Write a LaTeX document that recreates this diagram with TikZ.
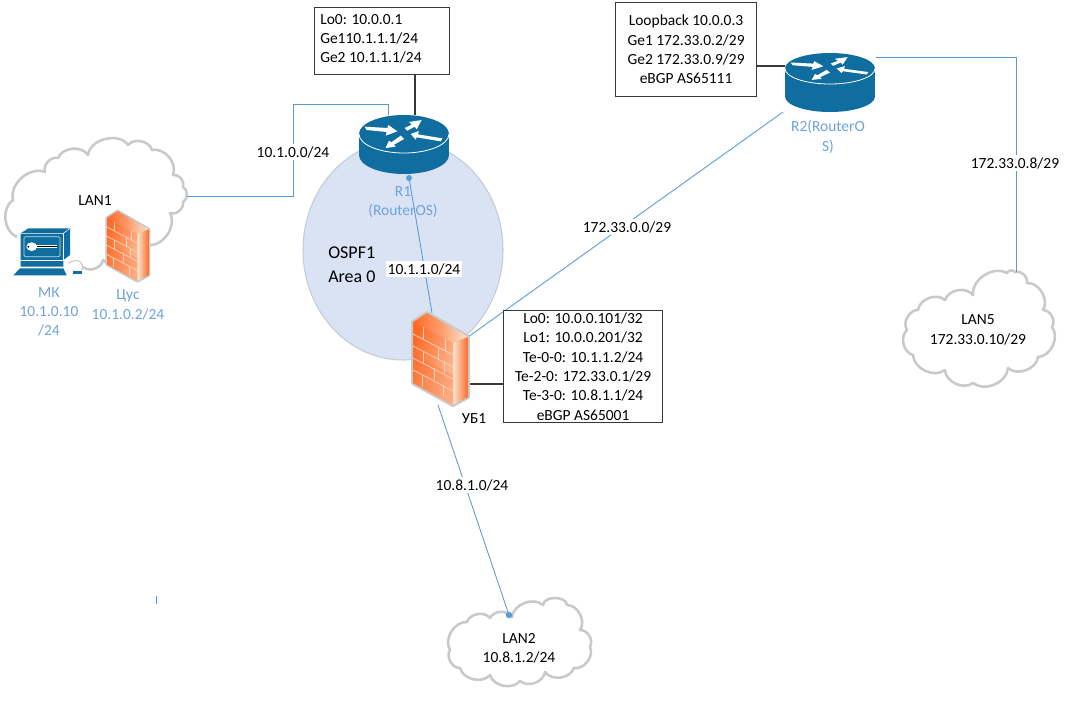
\documentclass[tikz,border=0pt]{standalone}
\usepackage{fontspec}
\setmainfont{Carlito}
\usetikzlibrary{arrows.meta,calc}
\definecolor{wire}{HTML}{5B9BD5}
\definecolor{lbl}{HTML}{6FA3DE}
\definecolor{rtr}{HTML}{0F6E9F}
\definecolor{cloudc}{HTML}{C9C9C9}
\definecolor{ospf}{HTML}{DAE3F3}
\definecolor{ospfl}{HTML}{C4CCD8}
\definecolor{fwa}{HTML}{FF6A26}
\definecolor{fwb}{HTML}{F9E6D2}
\definecolor{brick}{HTML}{F9D3BB}
\definecolor{dk}{HTML}{383838}
\tikzset{
  txt/.style={font=\fontsize{11.6}{14.5}\selectfont,inner sep=0pt,align=center,text=black},
  bluetxt/.style={txt,text=lbl},
  linklabel/.style={txt,fill=white,inner sep=1.5pt},
  infobox/.style={draw=dk,line width=0.85pt,fill=white,inner sep=0pt,font=\fontsize{11.6}{14.5}\selectfont,align=center},
  wirel/.style={draw=wire,line width=0.65pt},
  boxl/.style={draw=dk,line width=0.85pt},
  cloudl/.style={draw=cloudc,line width=1.9pt,fill=white,line join=round,every to/.style={bend left=62}},
}
% router: centre of top ellipse, half height of ellipse, height of the side
\newcommand{\routericon}[4]{%
\begin{scope}[shift={(#1,#2)}]
\fill[rtr] (-45,0) rectangle (45,#4);
\fill[rtr] (0,#4) ellipse[x radius=45,y radius=#3];
\fill[rtr] (0,0) ellipse[x radius=45,y radius=#3];
\draw[white,line width=0.6pt] (-45,0) arc[start angle=180,end angle=0,x radius=45,y radius=#3];
\begin{scope}[x=0.25pt,y=-0.25pt*#3/19,shift={(-190,-130)}]
\fill[white] (72,108) -- (140,112) -- (143,103) -- (170,122) -- (135,135) -- (138,124) -- (78,118) -- cycle;
\fill[white] (192,112) -- (213,102) -- (205,94) -- (243,88) -- (228,116) -- (222,108) -- (200,120) -- cycle;
\fill[white] (210,130) -- (235,121) -- (232,131) -- (305,143) -- (300,152) -- (228,140) -- (225,147) -- cycle;
\fill[white] (135,172) -- (145,150) -- (152,155) -- (180,135) -- (190,145) -- (160,162) -- (165,168) -- cycle;
\end{scope}
\end{scope}}
% firewall: top left corner of the front face and a scale
\newcommand{\firewallicon}[3]{%
\begin{scope}[shift={(#1,#2)},scale=#3]
\draw[cloudc,line width=3pt*#3,line join=round,fill=cloudc] (0,0) -- (14,-9) -- (55,15) -- (55,75) -- (40,83) -- (0,61) -- cycle;
\shade[left color=fwa,right color=fwb,middle color=fwa!60!fwb] (0,0) -- (14,-9) -- (55,15) -- (40,21) -- cycle;
\shade[left color=fwb,right color=fwa] (40,21) -- (55,15) -- (55,75) -- (40,83) -- cycle;
\shade[left color=fwa,right color=fwa!30!fwb,shading angle=70] (0,0) -- (40,21) -- (40,83) -- (0,61) -- cycle;
\fill[fwa,opacity=0.25] (0,32) -- (40,53) -- (40,83) -- (0,61) -- cycle;
\begin{scope}[draw=brick,line width=0.55pt]
\foreach \r in {12,24,36,48}{\draw (0,\r) -- (40,\r+21);}
\draw (10,5) -- (10,17); \draw (25,25) -- (25,37); \draw (10,29) -- (10,41);
\draw (21,46) -- (21,58); \draw (31,39) -- (31,51); \draw (9,53) -- (9,65);
\draw (30,63) -- (30,75); \draw (32,17) -- (32,29);
\end{scope}
\end{scope}}
\begin{document}
\begin{tikzpicture}[x=0.75pt,y=-0.75pt]
\useasboundingbox (0,0) rectangle (1070,711);
\fill[white] (0,0) rectangle (1070,711);

% area
\draw[fill=ospf,draw=ospfl,line width=0.8pt] (403,250) ellipse[x radius=100,y radius=110];

% clouds
\draw[cloudl] (17,237) to (13,200) to (45,172) to (58,158) to (88,155) to[bend left=70] (128,145) to (152,150) to (173,175) to (183,187) to (183,202) to (170,213) to (148,245) to (103,260) to (83,267);
\draw[cloudl] (512,617) to (543,605) to[bend left=85] (567,605) to (580,630) to (590,647) to (574,668) to (545,672) to (520,681) to (490,675) to (460,668) to (450,650) to (467,622) to (490,618) to cycle;
\draw[cloudl] (1015,272) to (1027,283) to (1043,310) to (1052,327) to (1038,357) to (1008,368) to (973,383) to (945,370) to (913,355) to (907,330) to (918,310) to (945,300) to (973,295) to (1007,273) to cycle;

% anchors of the devices
\coordinate (lan1out) at (187,196);
\coordinate (r1in) at (388,115);
\coordinate (r1box) at (415,115);
\coordinate (r1south) at (409,178);
\coordinate (ub1north) at (432,313);
\coordinate (ub1east) at (468,337);
\coordinate (ub1box) at (468,384);
\coordinate (ub1south) at (438,405);
\coordinate (r2south) at (783,112);
\coordinate (r2box) at (785,66);
\coordinate (r2out) at (876,57);
\coordinate (lan2in) at (509,615);
\coordinate (lan5in) at (1016,272);

% connectors under the devices
\draw[wirel] (lan1out) -- (293,196) -- (293,104) -- (388,104) -- (r1in);
\draw[wirel] (r1south) -- (ub1north);
\fill[wire] (r1south) circle[radius=3];
\draw[wirel] (ub1east) -- (r2south);
\draw[wirel] (ub1south) -- (lan2in);
\fill[wire] (lan2in) circle[radius=3.2];
\draw[wirel] (r2out) -- (lan5in |- r2out) -- (lan5in);
\draw[wirel] (156,596) -- (156,604);

% boxes
\node[infobox,anchor=north west,minimum width=135pt*0.75,minimum height=67pt*0.75] (boxa) at (314,7) {};
\node[txt,anchor=north west,align=left] (boxatxt) at (320,14) {Lo0: 10.0.0.1\\Ge110.1.1.1/24\\Ge2 10.1.1.1/24};
\node[infobox,anchor=north west,minimum width=141pt*0.75,minimum height=94pt*0.75] (boxb) at (615,2) {Loopback 10.0.0.3\\Ge1 172.33.0.2/29\\Ge2 172.33.0.9/29\\eBGP AS65111};
\node[infobox,anchor=north west,minimum width=159pt*0.75,minimum height=112pt*0.75] (boxc) at (503,310) {Lo0: 10.0.0.101/32\\Lo1: 10.0.0.201/32\\Te-0-0: 10.1.1.2/24\\Te-2-0: 172.33.0.1/29\\Te-3-0: 10.8.1.1/24\\eBGP AS65001};
\draw[boxl] (r1box) -- (r1box |- boxa.south);
\draw[boxl] (r2box) -- (r2box -| boxb.east);
\draw[boxl] (ub1box) -- (ub1box -| boxc.west);

% devices
\routericon{404}{134}{19}{21}
\routericon{830}{68.5}{15.5}{28}
\firewallicon{413}{322}{1}
\firewallicon{107}{218}{0.76}

% computer
\begin{scope}[shift={(0,130)},x=0.25pt,y=-0.25pt]
\fill[rtr] (62,310) -- (85,295) -- (210,295) -- (210,375) -- (190,390) -- (190,410) -- (62,410) -- cycle;
\draw[white,line width=0.4pt] (62,310) -- (190,310) -- (210,295);
\draw[white,line width=0.4pt] (190,310) -- (190,390) -- (62,390);
\draw[white!75!rtr,line width=0.5pt,rounded corners=1pt] (72,320) rectangle (180,380);
\fill[white] (95,350) ellipse[x radius=16,y radius=13];
\fill[white] (105,345) rectangle (172,355);
\fill[black] (85,350) circle[radius=3];
\draw[black,line width=0.5pt] (110,350) -- (172,350);
\fill[rtr] (60,415) -- (190,415) -- (200,436) -- (40,436) -- cycle;
\draw[cloudc,line width=0.8pt] (205,400) .. controls (235,380) and (255,400) .. (245,420);
\fill[rtr] (218,422) rectangle (245,432);
\end{scope}

% labels
\node[linklabel] (l1) at (293,152) {10.1.0.0/24};
\node[linklabel] (l2) at (424,269) {10.1.1.0/24};
\node[linklabel] (l3) at (627,227) {172.33.0.0/29};
\node[linklabel] (l4) at (472,485) {10.8.1.0/24};
\node[linklabel] (l5) at (1015,163) {172.33.0.8/29};
\node[bluetxt] (r1l) at (403,202) {R1\\(RouterOS)};
\node[bluetxt] (r2l) at (828,137) {R2(RouterO\\S)};
\node[bluetxt] (mkl) at (49,312) {МК\\10.1.0.10\\/24};
\node[bluetxt] (fwl) at (128,305) {Цус\\10.1.0.2/24};
\node[txt] (lan1) at (95,201) {LAN1};
\node[txt] (lan2) at (519,648) {LAN2\\10.8.1.2/24};
\node[txt] (lan5) at (978,330) {LAN5\\172.33.0.10/29};
\node[txt] (ub1l) at (474,419) {УБ1};
\node[txt,anchor=west,align=left,font=\fontsize{13.5}{18}\selectfont] (ospfl) at (328,265) {OSPF1\\Area 0};
\end{tikzpicture}
\end{document}
